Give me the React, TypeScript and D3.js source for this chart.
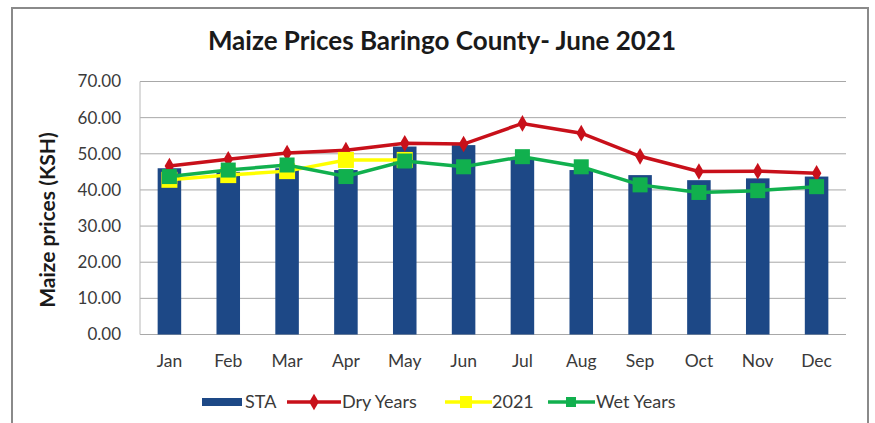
import React from "react";
import * as d3 from "d3";

const months = ["Jan", "Feb", "Mar", "Apr", "May", "Jun", "Jul", "Aug", "Sep", "Oct", "Nov", "Dec"];
const sta = [46, 45, 46, 45.5, 52, 52.4, 48.5, 45.5, 44.1, 42.7, 43.2, 43.7];
const dryYears = [46.6, 48.5, 50.2, 51, 52.9, 52.7, 58.4, 55.7, 49.3, 45.1, 45.2, 44.6];
const year2021: (number | null)[] = [42.8, 44.1, 45.2, 48.3, 48.3, null, null, null, null, null, null, null];
const wetYears = [43.7, 45.5, 46.9, 43.7, 48, 46.4, 49.2, 46.4, 41.4, 39.3, 39.8, 40.9];
const yTicks = [0, 10, 20, 30, 40, 50, 60, 70];

const W = 875, H = 423;
const M = { left: 140, right: 846, top: 81.5, bottom: 334.5 };
const FONT = "Lato, 'Open Sans', sans-serif";

export default function App() {
  const x = d3.scaleBand<string>().domain(months).range([M.left, M.right]).paddingInner(0.6).paddingOuter(0.3);
  const y = d3.scaleLinear().domain([0, 70]).range([M.bottom, M.top]);
  const cx = (m: string) => (x(m) as number) + x.bandwidth() / 2;
  const fmt = d3.format(".2f");

  const line = d3.line<[string, number | null]>()
    .defined((d) => d[1] != null)
    .x((d) => cx(d[0]))
    .y((d) => y(d[1] as number));

  const pairs = (arr: (number | null)[]) => months.map((m, i) => [m, arr[i]] as [string, number | null]);

  const red = "#c8101a";
  const yellow = "#ffff00";
  const green = "#11b04e";
  const navy = "#1d4886";
  const textCol = "#3a3a3a";

  const diamond = d3.symbol().type(d3.symbolDiamond).size(80)() as string;
  const ly = 402;

  return (
    <svg width={W} height={H} style={{ position: "absolute", left: 0, top: 0, background: "#fff" }} fontFamily={FONT}>
      <rect x={0} y={0} width={W} height={H} fill="#fff" />
      <rect x={12} y={8} width={856} height={416} fill="#fff" stroke="#8a8a8a" strokeWidth={2} />
      <text x={442} y={50} textAnchor="middle" fontSize={26} fontWeight="bold" fill="#1a1a1a">
        Maize Prices Baringo County- June 2021
      </text>

      {yTicks.map((t) => (
        <line key={t} x1={M.left} x2={M.right} y1={y(t)} y2={y(t)} stroke="#a8a8a8" strokeWidth={1} />
      ))}
      <line x1={M.left} x2={M.left} y1={M.top} y2={M.bottom} stroke="#b8b8b8" strokeWidth={1} />
      {yTicks.map((t) => (
        <text key={t} x={121} y={y(t)} dy="0.35em" textAnchor="end" fontSize={17} fill={textCol}>
          {fmt(t)}
        </text>
      ))}
      <text transform={`translate(55,${(M.top + M.bottom) / 2 + 12}) rotate(-90)`} textAnchor="middle" fontSize={21} fontWeight="bold" fill="#1a1a1a">
        Maize prices (KSH)
      </text>

      {months.map((m, i) => (
        <rect key={m} x={x(m)} y={y(sta[i])} width={x.bandwidth()} height={y(0) - y(sta[i])} fill={navy} />
      ))}

      {months.map((m) => (
        <text key={m} x={cx(m)} y={361} dy="0.35em" textAnchor="middle" fontSize={17.5} fill={textCol}>
          {m}
        </text>
      ))}

      <path d={line(pairs(dryYears)) as string} fill="none" stroke={red} strokeWidth={3.5} />
      {months.map((m, i) => (
        <path key={m} d={diamond} transform={`translate(${cx(m)},${y(dryYears[i])})`} fill={red} />
      ))}

      <path d={line(pairs(year2021)) as string} fill="none" stroke={yellow} strokeWidth={3.5} />
      {months.map((m, i) =>
        year2021[i] == null ? null : (
          <rect key={m} x={cx(m) - 8} y={y(year2021[i] as number) - 8} width={16} height={16} fill={yellow} />
        )
      )}

      <path d={line(pairs(wetYears)) as string} fill="none" stroke={green} strokeWidth={3.5} />
      {months.map((m, i) => (
        <rect key={m} x={cx(m) - 7.5} y={y(wetYears[i]) - 7.5} width={15} height={15} fill={green} />
      ))}

      <rect x={202} y={ly - 4} width={40} height={8} fill={navy} />
      <text x={245} y={ly} dy="0.35em" fontSize={18} fill={textCol}>STA</text>

      <line x1={287} x2={341} y1={ly} y2={ly} stroke={red} strokeWidth={3.5} />
      <path d={diamond} transform={`translate(314,${ly})`} fill={red} />
      <text x={342} y={ly} dy="0.35em" fontSize={18} fill={textCol}>Dry Years</text>

      <line x1={445} x2={492} y1={ly} y2={ly} stroke={yellow} strokeWidth={3.5} />
      <rect x={460} y={ly - 6} width={12} height={12} fill={yellow} />
      <text x={492} y={ly} dy="0.35em" fontSize={18} fill={textCol}>2021</text>

      <line x1={548} x2={595} y1={ly} y2={ly} stroke={green} strokeWidth={3.5} />
      <rect x={566} y={ly - 5} width={10} height={10} fill={green} />
      <text x={596} y={ly} dy="0.35em" fontSize={18} fill={textCol}>Wet Years</text>
    </svg>
  );
}
